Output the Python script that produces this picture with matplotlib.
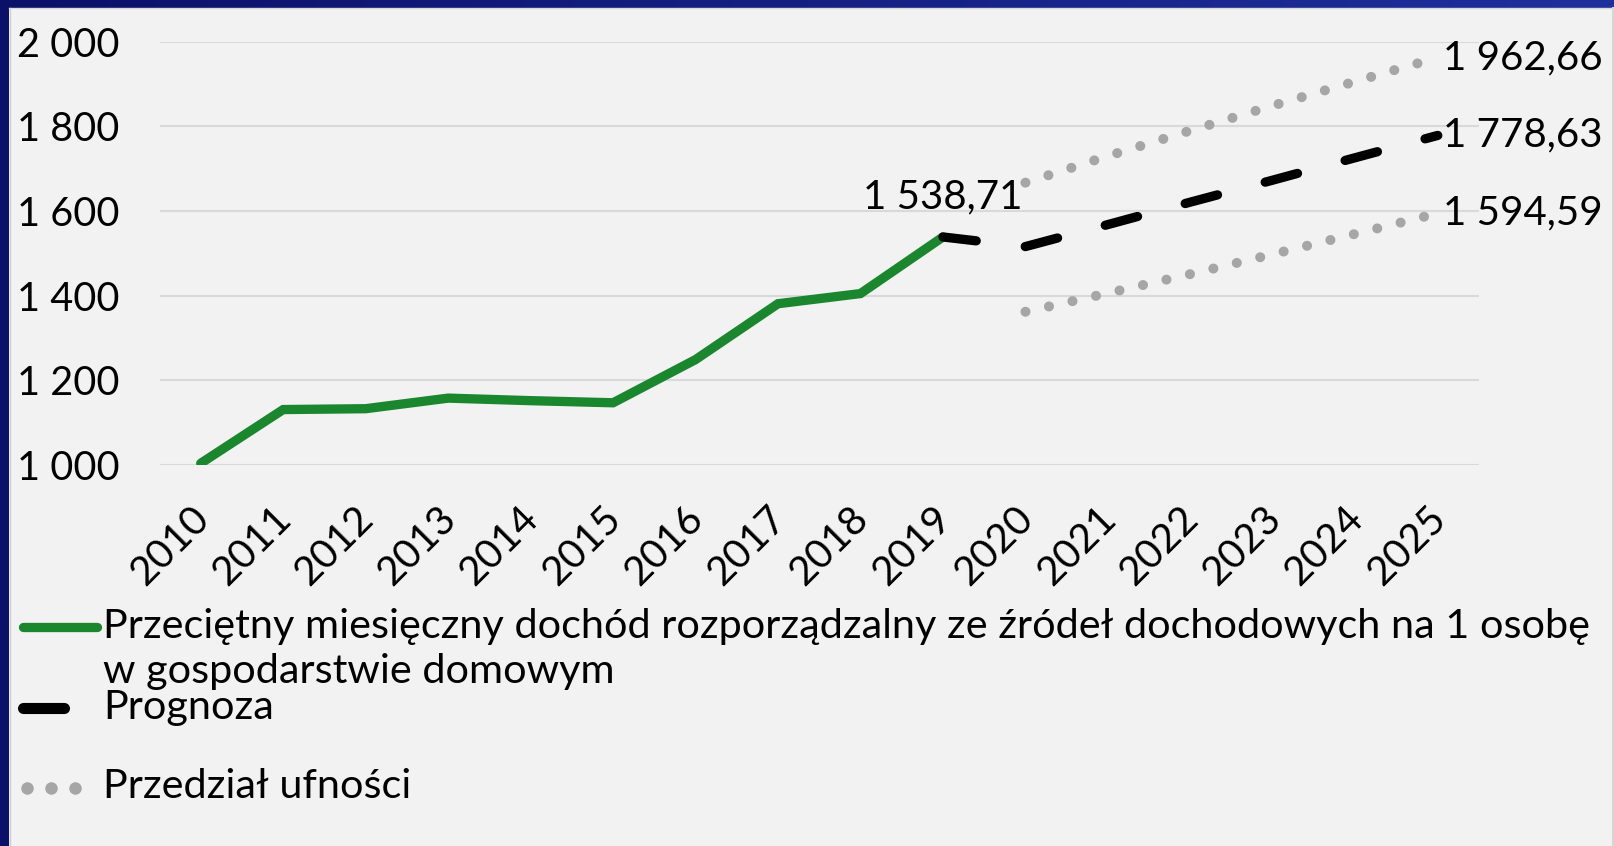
import matplotlib
matplotlib.use('Agg')
import matplotlib.pyplot as plt
import matplotlib.transforms as mtransforms
import numpy as np

# data
years = [str(y) for y in range(2010, 2026)]
income = [1004, 1131, 1133, 1158, 1152, 1147, 1249, 1381, 1405, 1538.71]
forecast = [1538.71, 1516, 1568, 1621, 1673, 1726, 1778.63]
upper = [1667, 1730, 1790, 1849, 1906, 1962.66]
lower = [1362, 1406, 1451, 1498, 1546, 1594.59]
y_ticks = [1000, 1200, 1400, 1600, 1800, 2000]

labels = ['Przeciętny miesięczny dochód rozporządzalny ze źródeł dochodowych na 1 osobę\n'
          'w gospodarstwie domowym',
          'Prognoza',
          'Przedział ufności']

GREEN = '#1a862e'
GREY_DOT = '#a6a6a6'
BG = '#f2f2f2'

plt.rcParams['font.family'] = ['Lato', 'DejaVu Sans']

W, H = 1614, 846
fig = plt.figure(figsize=(W / 100, H / 100), dpi=100)
fig.patch.set_facecolor(BG)


def pl(v, dec=2):
    """Polish number format: space for thousands, comma for decimals."""
    return f'{v:,.{dec}f}'.replace(',', ' ').replace('.', ',')


# background / frame / legend layer in pixel coordinates
lax = fig.add_axes([0, 0, 1, 1], zorder=0)
lax.set_facecolor('none')
grad = np.linspace(0, 1, 256).reshape(1, -1)
cmap = matplotlib.colors.LinearSegmentedColormap.from_list('bar', ['#0b1168', '#1f309c'])
lax.imshow(grad, extent=[0, W, 8, 0], aspect='auto', cmap=cmap)
lax.add_patch(plt.Rectangle((0, 0), 9, H, color='#0b1168', lw=0))
lax.plot([9.5, 9.5], [8, H], color='#d0d0d0', lw=1)
lax.plot([9, W], [8.5, 8.5], color='#d9d9d9', lw=1)
lax.plot([W - 1, W - 1], [8, H], color='#d6d6d6', lw=1.5)
lax.set_xlim(0, W)
lax.set_ylim(H, 0)
lax.axis('off')

# main plot
ax = fig.add_axes([159.5 / W, 1 - 465 / H, (1479 - 159.5) / W, (465 - 41.7) / H], zorder=1)
ax.set_facecolor('none')
x = np.arange(len(years))

for yv in y_ticks:
    ax.axhline(yv, color='#d9d9d9', lw=1.5, zorder=0)

ax.plot(x[:len(income)], income, color=GREEN, lw=6.7, solid_capstyle='round',
        solid_joinstyle='miter', zorder=3)
ax.plot(x[len(income) - 1:], forecast, color='black', lw=6.7, dashes=(3.6, 5.3),
        dash_capstyle='round', zorder=4)
ax.plot(x[len(income):], upper, color=GREY_DOT, lw=7.2, dashes=(0.01, 2.4),
        dash_capstyle='round', zorder=2)
ax.plot(x[len(income):], lower, color=GREY_DOT, lw=7.2, dashes=(0.01, 2.4),
        dash_capstyle='round', zorder=2)

# data labels
ax.annotate(pl(income[-1]), (x[len(income) - 1], income[-1]), xytext=(0, 29),
            textcoords='offset points', ha='center', va='center', fontsize=29)
for val in (upper[-1], forecast[-1], lower[-1]):
    ax.annotate(pl(val), (x[-1], val), xytext=(4, 0), textcoords='offset points',
                ha='left', va='center', fontsize=29, annotation_clip=False)

ax.set_xlim(-0.5, len(years) - 0.5)
ax.set_ylim(1000, 2000)
ax.set_yticks(y_ticks)
ax.set_yticklabels([pl(v, 0) for v in y_ticks], fontsize=28.5)
ax.set_xticks(x)
ax.set_xticklabels(years, fontsize=29, rotation=45, ha='right')
ax.tick_params(length=0)
ax.tick_params(axis='y', pad=29)
ax.tick_params(axis='x', pad=25)
for s in ax.spines.values():
    s.set_visible(False)
shift = mtransforms.ScaledTranslation(0.15, 0, fig.dpi_scale_trans)
for lab in ax.get_xticklabels():
    lab.set_transform(lab.get_transform() + shift)

# legend (drawn by hand to keep the uneven spacing)
lax.plot([23, 97], [627, 627], color=GREEN, lw=6.7, solid_capstyle='round')
lax.text(103, 608, labels[0], fontsize=29.8, va='top', ha='left', linespacing=1.27)
lax.plot([23, 64], [708, 708], color='black', lw=8, solid_capstyle='round')
lax.text(103, 707, labels[1], fontsize=29.8, va='center', ha='left')
lax.plot([27, 51, 75], [788, 788, 788], 'o', color=GREY_DOT, ms=9, mec='none')
lax.text(103, 786, labels[2], fontsize=29.8, va='center', ha='left')

fig.savefig('out.png', dpi=100, facecolor=BG)
